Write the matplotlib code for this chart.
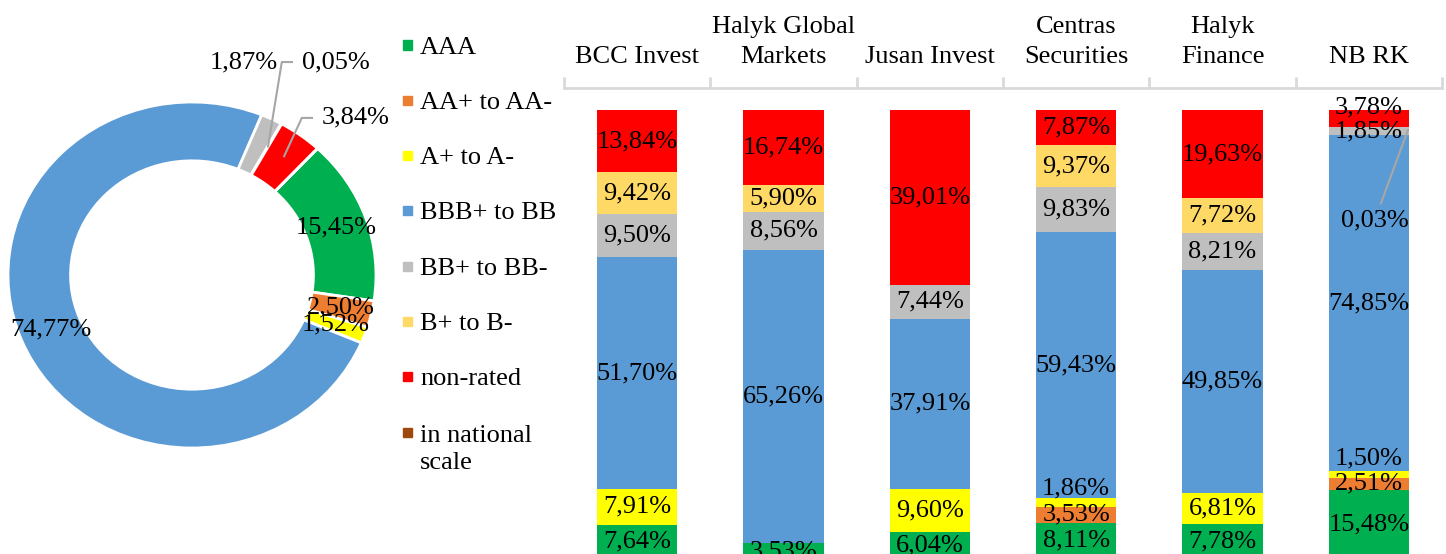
import numpy as np
import matplotlib.pyplot as plt
from matplotlib.patches import Rectangle

plt.rcParams['font.family'] = ['Liberation Serif', 'DejaVu Serif']
plt.rcParams['font.size'] = 19

ratings = ['AAA', 'AA+ to AA-', 'A+ to A-', 'BBB+ to BB', 'BB+ to BB-',
           'B+ to B-', 'non-rated', 'in national\nscale']
colors = ['#00B050', '#ED7D31', '#FFFF00', '#5B9BD5', '#BFBFBF',
          '#FFD966', '#FF0000', '#9E480E']

# overall structure (donut)
total_share = [15.45, 2.50, 1.52, 74.77, 1.87, 0.05, 3.84, 0.0]

# by broker (stacked bars)
brokers = ['BCC Invest', 'Halyk Global\nMarkets', 'Jusan Invest',
           'Centras\nSecurities', 'Halyk\nFinance', 'NB RK']
aaa = [7.64, 3.53, 6.04, 8.11, 7.78, 15.48]
aa = [0, 0, 0, 3.53, 0, 2.51]
a = [7.91, 0, 9.60, 1.86, 6.81, 1.50]
bbb = [51.70, 65.26, 37.91, 59.43, 49.85, 74.85]
bb = [9.50, 8.56, 7.44, 9.83, 8.21, 1.85]
b = [9.42, 5.90, 0, 9.37, 7.72, 0.03]
non_rated = [13.84, 16.74, 39.01, 7.87, 19.63, 3.78]
national = [0, 0, 0, 0, 0, 0]
broker_shares = [aaa, aa, a, bbb, bb, b, non_rated, national]


def pct(v):
    return f'{v:.2f}%'.replace('.', ',')


W, H = 1446, 554
fig = plt.figure(figsize=(W / 100, H / 100), dpi=100)
leader = '#A6A6A6'

# ---- donut ----
ax1 = fig.add_axes([8 / W, 106 / H, 368 / W, 346 / H])
wedges, _ = ax1.pie(total_share, colors=colors, startangle=47, counterclock=False,
                    radius=1, wedgeprops=dict(width=0.34, edgecolor='white', linewidth=2))
ax1.set_aspect('auto')
ax1.set_xlim(-1, 1)
ax1.set_ylim(-1, 1)


def polar(w, r):
    ang = np.deg2rad((w.theta1 + w.theta2) / 2)
    return r * np.cos(ang), r * np.sin(ang)


for i in range(4):
    px, py = polar(wedges[i], 0.83)
    ax1.text(px, py, pct(total_share[i]), ha='center', va='center')

# small slices: labels outside
outside = {4: (0.467, 1.231, 'right', False),
           5: (0.598, 1.231, 'left', True),
           6: (0.707, 0.908, 'left', True)}
for i, (lx, ly, ha, has_line) in outside.items():
    ax1.text(lx, ly, pct(total_share[i]), ha=ha, va='center')
    if has_line:
        sx, sy = polar(wedges[i], 0.85)
        ax1.plot([sx, lx - 0.11, lx - 0.055], [sy, ly, ly], color=leader,
                 lw=1.5, clip_on=False)

# ---- legend ----
for i, (lab, c) in enumerate(zip(ratings, colors)):
    yc = 45 + i * 55.3
    extra = 28 * lab.count('\n')
    fig.add_artist(Rectangle((403 / W, 1 - (yc + 4.5) / H), 9 / W, 9 / H,
                             transform=fig.transFigure, color=c))
    fig.text(420 / W, 1 - (yc + 8.5 + extra) / H, lab, ha='left', va='baseline',
             linespacing=1.28)

# ---- stacked bars ----
ax2 = fig.add_axes([564 / W, -5 / H, 878 / W, 471.4 / H])
x = np.arange(len(brokers))
width = 0.55
label_shift = {(2, 3): 3.1, (2, 5): 3.6, (6, 5): 2.5}
bottom = np.zeros(len(brokers))
for si, (vals, c) in enumerate(zip(broker_shares, colors)):
    vals = np.array(vals, dtype=float)
    ax2.bar(x, vals, width, bottom=bottom, color=c)
    for j, v in enumerate(vals):
        if v <= 0:
            continue
        mid = bottom[j] + v / 2
        if v < 0.5:
            ax2.annotate(pct(v), xy=(x[j] + width / 2, mid), xytext=(x[j] + 0.04, 75.5),
                         ha='center', va='center',
                         arrowprops=dict(arrowstyle='-', color=leader, lw=1.5))
        else:
            ax2.text(x[j], mid + label_shift.get((si, j), 0), pct(v),
                     ha='center', va='center')
    bottom += vals

ax2.set_xlim(-0.5, 5.5)
ax2.set_ylim(0, 105)
ax2.set_yticks([])
ax2.xaxis.tick_top()
ax2.set_xticks(x, [''] * len(brokers))
for xi, name in zip(x, brokers):
    ax2.annotate(name, xy=(xi, 1), xycoords=('data', 'axes fraction'),
                 xytext=(0, 14), textcoords='offset points',
                 ha='center', va='bottom', linespacing=1.5, annotation_clip=False)
ax2.set_xticks(np.arange(-0.5, 6, 1), minor=True)
ax2.tick_params(axis='x', which='major', length=0)
ax2.tick_params(axis='x', which='minor', length=8, width=2, color='#D9D9D9', direction='out')
for s in ['left', 'right', 'bottom']:
    ax2.spines[s].set_visible(False)
ax2.spines['top'].set_color('#D9D9D9')
ax2.spines['top'].set_linewidth(2)

fig.savefig('out.png', dpi=100)
